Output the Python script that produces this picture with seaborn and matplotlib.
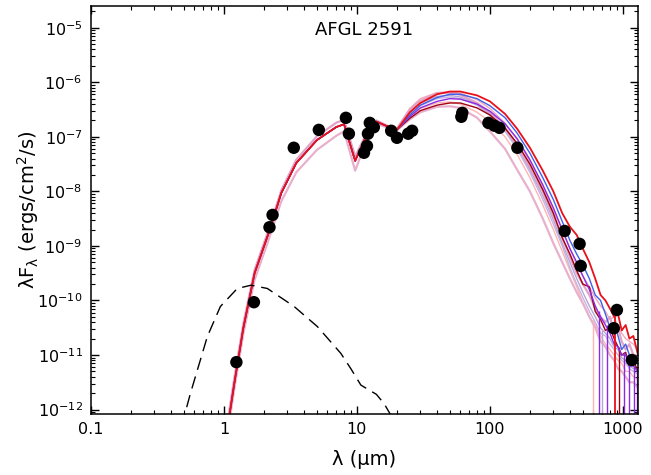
"""
plot.py
-------
SED of AFGL 2591: photometry (black dots), a family of fitted YSO models
(coloured lines) and the stellar photosphere (dashed).
"""

import seaborn as sns
import matplotlib
matplotlib.use("Agg")  # headless rendering
import matplotlib.pyplot as plt
from matplotlib.ticker import FixedLocator, FixedFormatter, LogLocator, NullFormatter
import numpy as np
import pandas as pd

# --- photometry (micron, ergs/cm^2/s) ---
obs_lam = [1.24, 1.68, 2.20, 2.32, 3.35, 5.17, 8.26, 8.7, 11.3, 11.9,
           12.1, 12.5, 13.4, 18.1, 20.0, 24.3, 26.0, 61.0, 62.0, 97.5,
           108, 118, 161, 365, 473, 482, 902, 855, 1170]
obs_flux = [7.4e-12, 9.3e-11, 2.2e-9, 3.7e-9, 6.3e-8, 1.34e-7, 2.23e-7, 1.14e-7, 5.1e-8, 6.8e-8,
            1.14e-7, 1.8e-7, 1.5e-7, 1.29e-7, 9.6e-8, 1.14e-7, 1.29e-7, 2.33e-7, 2.75e-7, 1.8e-7,
            1.6e-7, 1.46e-7, 6.3e-8, 1.88e-9, 1.09e-9, 4.3e-10, 6.7e-11, 3.1e-11, 8.1e-12]

# --- stellar photosphere (dashed), log10 flux ---
star_lam = [0.48, 0.56, 0.75, 0.94, 1.26, 1.6, 2.12, 3.37, 5.05, 7.57, 9.0, 10.7, 12.5, 14.0, 16.0, 19.0]
star_logf = [-12.3, -11.7, -10.66, -10.11, -9.78, -9.72, -9.78, -10.11, -10.48, -10.97,
             -11.25, -11.55, -11.65, -11.72, -11.89, -12.2]

# --- model wavelength grid (micron) ---
lam_nir = [1.0, 1.1, 1.2, 1.4, 1.7, 2.2, 2.7, 3.5, 5, 7, 8, 9.7, 12, 14, 17]
lam_fir = [20, 25, 30, 40, 50, 60, 80, 100, 130, 160, 200, 250, 300, 350, 400,
           450, 500, 560, 620, 680, 740, 800, 860, 920, 980, 1050, 1120, 1200, 1300]

# near-IR part of the models, log10 flux (three shapes overlap there)
nir_main = [-13.0, -12.1, -11.5, -10.5, -9.5, -8.72, -8.03, -7.48, -7.06, -6.82, -6.77, -7.44, -6.93, -6.72, -6.81]
nir_high = [-13.0, -12.0, -11.4, -10.42, -9.44, -8.66, -7.98, -7.42, -6.99, -6.74, -6.69, -7.36, -6.90, -6.70, -6.80]
nir_low = [-13.0, -12.2, -11.6, -10.6, -9.62, -8.84, -8.18, -7.65, -7.24, -6.98, -6.90, -7.62, -7.02, -6.76, -6.83]

# far-IR / sub-mm part of each model, log10 flux
fir_red = [-6.87, -6.55, -6.38, -6.22, -6.17, -6.17, -6.24, -6.35, -6.58, -6.85, -7.2, -7.62, -8.0, -8.4, -8.65,
           -8.8, -9.05, -9.3, -9.6, -9.9, -10.0, -10.15, -10.3, -10.25, -10.55, -10.45, -10.7, -10.65, -11.0]
fir_blue = [-6.87, -6.6, -6.42, -6.28, -6.22, -6.22, -6.3, -6.43, -6.65, -6.93, -7.3, -7.75, -8.15, -8.55, -8.9,
            -9.15, -9.35, -9.6, -9.9, -10.0, -10.25, -10.5, -10.4, -10.65, -10.9, -10.8, -11.0, -11.1, -11.15]
fir_purple = [-6.87, -6.63, -6.47, -6.35, -6.3, -6.31, -6.4, -6.53, -6.76, -7.03, -7.42, -7.88, -8.3, -8.7, -9.05,
              -9.3, -9.55, -9.8, -10.1, -10.3, -10.45, -10.6, -10.8, -10.85, -11.0, -11.0, -11.2, -11.2, -11.3]
fir_darkred = [-6.87, -6.66, -6.52, -6.42, -6.38, -6.38, -6.47, -6.6, -6.84, -7.12, -7.5, -7.97, -8.4, -8.85, -9.15,
               -9.45, -9.7, -9.75, -10.2, -10.35, -10.55, -10.5, -10.7, -10.85, -11.0, -10.95, -11.2, -11.1, -11.3]
fir_pink = [-6.85, -6.5, -6.34, -6.2, -6.19, -6.23, -6.38, -6.55, -6.83, -7.15, -7.55, -8.0, -8.45, -8.85, -9.2,
            -9.5, -9.7, -9.9, -10.15, -10.3, -10.4, -10.3, -10.6, -10.5, -10.75, -10.9, -10.8, -11.0, -11.05]
fir_pink_low = [-6.88, -6.68, -6.55, -6.45, -6.44, -6.47, -6.65, -6.9, -7.22, -7.6, -8.0, -8.5, -8.95, -9.3, -9.6,
                -9.85, -10.05, -10.3, -10.5, -10.75, -10.85, -11.0, -11.1, -11.25, -11.3, -11.4, -11.5, -11.5, -11.6]
fir_lavender = [-6.86, -6.55, -6.38, -6.26, -6.24, -6.27, -6.4, -6.58, -6.86, -7.18, -7.6, -8.08, -8.52, -8.95, -9.3,
                -9.6, -9.85, -10.1, -10.3, -10.5, -10.6, -10.7, -10.85, -10.9, -11.05, -11.1, -11.2, -11.25, -11.3]
fir_lightpink = [-6.87, -6.62, -6.48, -6.38, -6.36, -6.4, -6.55, -6.72, -7.0, -7.32, -7.75, -8.25, -8.7, -9.1, -9.45,
                 -9.75, -10.05, -10.3, -10.45, -10.65, -10.8, -10.9, -11.0, -11.1, -11.15, -11.3, -11.3, -11.4, -11.45]
fir_lavender2 = [-6.86, -6.58, -6.43, -6.3, -6.27, -6.3, -6.42, -6.6, -6.9, -7.22, -7.65, -8.15, -8.6, -9.0, -9.4,
                 -9.7, -9.95, -10.2, -10.4, -10.6, -10.65, -10.8, -10.9, -11.0, -11.1, -11.15, -11.25, -11.3, -11.35]
fir_rose = [-6.85, -6.48, -6.3, -6.19, -6.18, -6.2, -6.32, -6.48, -6.75, -7.05, -7.45, -7.92, -8.35, -8.72, -9.05,
            -9.35, -9.55, -9.75, -9.95, -10.1, -10.2, -10.35, -10.3, -10.5, -10.6, -10.7, -10.75, -10.8, -10.9]

# points where a model goes negative (drawn as drops to the bottom axis):
# wavelength (micron) and log10 flux at the top of the drop
drop_lam_lightpink = [594]
drop_top_lightpink = [-10.35]
drop_lam_lavender = [695]
drop_top_lavender = [-10.55]
drop_lam_purple = [659, 757, 1018, 1110, 1210, 1276]
drop_top_purple = [-10.2, -10.45, -10.95, -11.1, -11.2, -11.25]
drop_lam_red = [871]
drop_top_red = [-10.3]
drop_lam_darkred = [934]
drop_top_darkred = [-10.85]

# drawing order: faint models first, best fits on top
models = [
    ("lightpink", nir_main, fir_lightpink, "#ffb4b4", 1.0, drop_lam_lightpink, drop_top_lightpink),
    ("pink_low", nir_low, fir_pink_low, "#e8b0cc", 1.6, [], []),
    ("lavender2", nir_main, fir_lavender2, "#c8b4e0", 1.0, [], []),
    ("lavender", nir_main, fir_lavender, "#b4a8d8", 1.0, drop_lam_lavender, drop_top_lavender),
    ("rose", nir_main, fir_rose, "#f2a8bc", 1.0, [], []),
    ("pink", nir_high, fir_pink, "#e2a4c6", 1.6, [], []),
    ("darkred", nir_main, fir_darkred, "#a00010", 1.0, drop_lam_darkred, drop_top_darkred),
    ("purple", nir_main, fir_purple, "#8a2be2", 1.0, drop_lam_purple, drop_top_purple),
    ("blue", nir_main, fir_blue, "#4060e8", 1.0, [], []),
    ("red", nir_main, fir_red, "#e8101a", 1.3, drop_lam_red, drop_top_red),
]

YMIN, YMAX = 8.3e-13, 2.5e-5

sns.set_theme(style="ticks")
plt.rcParams["font.family"] = ["DejaVu Sans"]
plt.rcParams["mathtext.fontset"] = "dejavusans"

fig = plt.figure(figsize=(6.51, 4.75), dpi=100)
ax = fig.add_axes([91 / 651, 1 - 414 / 475, 547 / 651, 408 / 475])

lam_grid = lam_nir + lam_fir
for name, nir, fir, color, lw, d_lam, d_top in models:
    df = pd.DataFrame({"lam": lam_grid, "flux": 10.0 ** np.array(nir + fir)})
    sns.lineplot(data=df, x="lam", y="flux", ax=ax, color=color, lw=lw,
                 estimator=None, sort=False)
    if d_lam:
        ax.vlines(d_lam, YMIN * 0.5, 10.0 ** np.array(d_top), color=color, lw=lw)

star = pd.DataFrame({"lam": star_lam, "flux": 10.0 ** np.array(star_logf)})
sns.lineplot(data=star, x="lam", y="flux", ax=ax, color="black", lw=1.0,
             estimator=None, sort=False)
ax.lines[-1].set_dashes((9, 5))

obs = pd.DataFrame({"lam": obs_lam, "flux": obs_flux})
sns.scatterplot(data=obs, x="lam", y="flux", ax=ax, color="black", s=80,
                edgecolor="none", zorder=5)

ax.set_xscale("log")
ax.set_yscale("log")
ax.set_xlim(0.1, 1300)
ax.set_ylim(YMIN, YMAX)

# ticks on all four sides, pointing in
ax.xaxis.set_major_locator(FixedLocator([0.1, 1, 10, 100, 1000]))
ax.xaxis.set_major_formatter(FixedFormatter(["0.1", "1", "10", "100", "1000"]))
ax.xaxis.set_minor_locator(LogLocator(base=10, subs=np.arange(2, 10), numticks=20))
ax.xaxis.set_minor_formatter(NullFormatter())
ax.yaxis.set_major_locator(FixedLocator([1e-12, 1e-11, 1e-10, 1e-9, 1e-8, 1e-7, 1e-6, 1e-5]))
ax.yaxis.set_minor_locator(LogLocator(base=10, subs=np.arange(2, 10), numticks=20))
ax.yaxis.set_minor_formatter(NullFormatter())
ax.tick_params(which="both", direction="in", top=True, right=True, color="black",
               labelsize=11.5, labelcolor="black")
ax.tick_params(which="major", length=6, width=1.0, pad=6)
ax.tick_params(which="minor", length=3, width=0.8)
for sp in ax.spines.values():
    sp.set_color("black")
    sp.set_linewidth(1.1)

ax.set_xlabel(r"λ (μm)", fontsize=14, color="black")
ax.set_ylabel(r"λF$_{\mathregular{λ}}$ (ergs/cm$^{\mathregular{2}}$/s)", fontsize=14, color="black")
ax.xaxis.set_label_coords(0.5, -0.088)
ax.yaxis.set_label_coords(-0.091, 0.5)
ax.text(0.5, 0.94, "AFGL 2591", transform=ax.transAxes, ha="center", va="center",
        fontsize=13, color="black")

fig.savefig("out.png", dpi=100)
plt.close(fig)
